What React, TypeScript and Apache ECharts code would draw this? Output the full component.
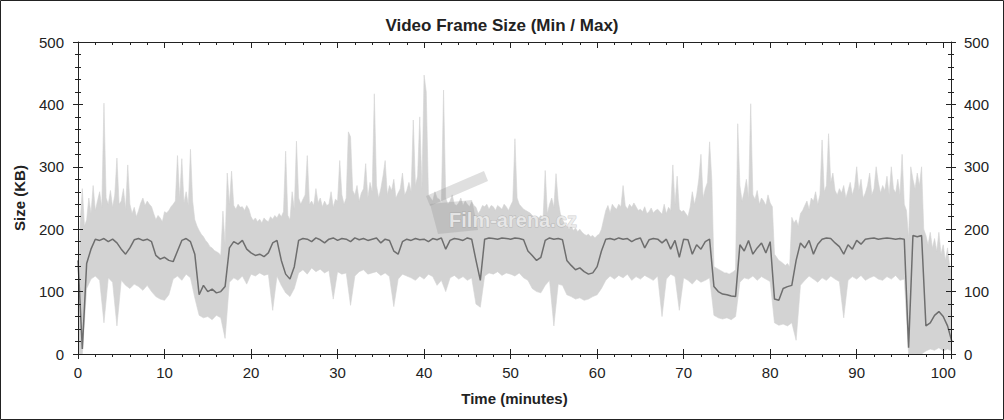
import React, { useEffect, useRef } from "react";
import * as echarts from "echarts";

// sampling grids (minutes between samples)
const MAX_STEP = 0.25;
const STEP = 0.5;

const xTickValues = [0, 10, 20, 30, 40, 50, 60, 70, 80, 90, 100];
const yTickValues = [0, 100, 200, 300, 400, 500];

// upper edge of the light band (KB), one row per minute, 4 samples per row
const maxValues = [
  60, 210, 265, 205,
  215, 250, 225, 270,
  230, 245, 260, 235,
  402, 250, 240, 262,
  235, 255, 314, 240,
  245, 265, 232, 303,
  240, 225, 235, 220,
  230, 242, 250, 238,
  245, 240, 236, 225,
  215, 222, 218, 212,
  228, 226, 230, 236,
  240, 245, 318, 250,
  313, 242, 260, 238,
  328, 245, 215, 205,
  198, 192, 188, 182,
  178, 172, 170, 166,
  164, 162, 158, 229,
  175, 290, 240, 293,
  238, 232, 240, 235,
  236, 230, 238, 232,
  220, 214, 218, 212,
  216, 210, 218, 214,
  212, 220, 216, 222,
  218, 225, 220, 228,
  325, 222, 215, 260,
  232, 341, 250, 240,
  248, 255, 318, 240,
  245, 238, 265, 242,
  250, 236, 245, 238,
  240, 260, 235, 248,
  245, 310, 255, 240,
  250, 356, 348, 262,
  255, 270, 245, 258,
  265, 305, 250, 275,
  260, 417, 270, 250,
  265, 285, 310, 255,
  270, 262, 280, 250,
  258, 265, 290, 255,
  262, 275, 260, 375,
  270, 285, 380, 265,
  447, 420, 255, 250,
  245, 260, 250, 248,
  242, 423, 250, 240,
  245, 255, 240, 238,
  242, 250, 238, 245,
  240, 236, 244, 238,
  235, 225, 230, 238,
  236, 240, 232, 238,
  236, 230, 238, 235,
  232, 240, 236, 230,
  238, 245, 345, 250,
  240, 236, 232, 230,
  228, 226, 222, 219,
  220, 218, 222, 216,
  294, 225, 240, 250,
  235, 289, 245, 225,
  215, 208, 205, 200,
  205, 198, 202, 196,
  200, 195, 192, 190,
  192, 188, 190, 186,
  190, 192, 200, 215,
  230, 238, 226, 240,
  235, 232, 240, 236,
  270, 238, 232, 240,
  235, 242, 236, 230,
  232, 228, 236, 225,
  228, 234, 226, 230,
  232, 228, 224, 240,
  225, 235, 230, 303,
  240, 285, 232, 228,
  230, 225, 220, 235,
  260, 240, 255, 280,
  320, 250, 265, 275,
  340, 280, 140, 138,
  136, 134, 132, 130,
  130, 128, 130, 132,
  135, 369, 270, 245,
  260, 280, 250, 401,
  255, 248, 262, 240,
  250, 245, 238, 255,
  242, 236, 160, 155,
  150, 148, 145, 142,
  145, 140, 219, 210,
  215, 205, 225, 230,
  238, 245, 232, 250,
  245, 260, 240, 255,
  343, 260, 270, 353,
  275, 290, 262, 255,
  265, 258, 270, 250,
  262, 275, 255, 268,
  300, 262, 280, 250,
  258, 270, 290, 255,
  265, 300, 275, 258,
  270, 262, 285, 255,
  300, 265, 258, 280,
  255, 320, 240, 230,
  185, 300, 280, 265,
  290, 270, 300, 200,
  190, 175, 195, 170,
  185, 165, 195, 160,
  175, 150, 170, 140,
  130,
];

// lower edge of the light band (KB), one sample every half minute
const minValues = [
  0, 0, 105, 120, 125, 118, 50, 122, 115, 45,
  118, 110, 105, 112, 108, 102, 110, 100, 92, 88,
  86, 95, 120, 125, 118, 128, 122, 90, 62, 58,
  60, 55, 62, 58, 25, 115, 122, 118, 125, 112,
  128, 125, 130, 126, 128, 70, 125, 110, 98, 92,
  105, 130, 135, 128, 138, 132, 136, 130, 134, 88,
  132, 128, 130, 78, 125, 132, 135, 128, 130, 132,
  126, 130, 124, 76, 120, 128, 125, 122, 118, 125,
  120, 128, 124, 110, 118, 100, 122, 126, 120, 124,
  118, 122, 80, 75, 125, 130, 128, 132, 126, 130,
  128, 125, 130, 122, 118, 105, 100, 98, 110, 118,
  45, 112, 110, 95, 92, 88, 90, 86, 88, 92,
  95, 105, 118, 125, 120, 126, 122, 128, 118, 124,
  120, 126, 122, 118, 125, 60, 120, 128, 124, 70,
  122, 118, 112, 120, 115, 118, 122, 62, 58, 56,
  58, 55, 60, 115, 122, 120, 125, 118, 124, 120,
  116, 50, 46, 48, 45, 50, 22, 110, 118, 125,
  120, 115, 122, 118, 125, 120, 116, 58, 118, 124,
  120, 126, 118, 122, 125, 120, 118, 124, 120, 126,
  118, 120, 0, 0, 0, 0, 5, 8, 6, 10,
  5, 8, 5,
];

// dark line (KB), one sample every half minute
const lineValues = [
  150, 8, 145, 168, 184, 182, 185, 180, 184, 178,
  168, 160, 170, 183, 185, 182, 184, 180, 158, 152,
  155, 150, 148, 165, 182, 185, 180, 160, 95, 110,
  100, 104, 98, 100, 108, 170, 180, 176, 182, 168,
  162, 158, 160, 156, 162, 178, 182, 150, 128, 120,
  140, 182, 185, 184, 180, 186, 183, 178, 184, 186,
  182, 185, 184, 180, 186, 183, 185, 182, 184, 186,
  178, 184, 182, 165, 160, 180, 184, 182, 185, 183,
  184, 180, 185, 183, 186, 168, 182, 185, 184, 182,
  186, 184, 150, 118, 184, 186, 185, 184, 186, 185,
  184, 186, 185, 183, 165, 158, 150, 155, 182, 186,
  184, 185, 183, 150, 142, 135, 138, 132, 128, 130,
  140, 165, 184, 185, 183, 186, 184, 185, 180, 184,
  186, 170, 183, 185, 184, 178, 184, 168, 182, 155,
  184, 183, 160, 175, 168, 180, 184, 108, 100, 96,
  95, 93, 92, 175, 165, 182, 160, 170, 178, 162,
  180, 88, 86, 105, 108, 110, 150, 178, 170, 182,
  160, 176, 184, 186, 185, 178, 172, 160, 175, 168,
  182, 176, 184, 185, 186, 184, 185, 186, 185, 184,
  185, 184, 10, 190, 188, 190, 45, 50, 62, 68,
  60, 45, 20,
];

const X_MAX = 100.9;
const FONT = "'Liberation Sans', Arial, sans-serif";
const INK = "#222";

export default function App() {
  const ref = useRef<HTMLDivElement>(null);

  useEffect(() => {
    document.body.style.margin = "0";
    const chart = echarts.init(ref.current!, undefined, { renderer: "svg" });

    const maxData = maxValues.map((v, i) => [i * MAX_STEP, v]);
    const minData = minValues.map((v, i) => [i * STEP, v]);
    const lineData = lineValues.map((v, i) => [i * STEP, v]);

    const xLabelFmt = (v: number) => (xTickValues.includes(v) ? String(v) : "");
    const yLabelFmt = (v: number) => (yTickValues.includes(v) ? String(v) : "");

    const baseX = {
      type: "value",
      min: 0,
      max: X_MAX,
      interval: 10,
      splitLine: { show: false },
      z: 10,
    };
    const baseY = {
      type: "value",
      min: 0,
      max: 500,
      interval: 100,
      splitLine: { show: false },
      z: 10,
    };
    const line = { show: true, onZero: false, lineStyle: { color: INK, width: 1 } };

    chart.setOption({
      animation: false,
      backgroundColor: "#fff",
      title: {
        text: "Video Frame Size (Min / Max)",
        left: "center",
        top: 12,
        textStyle: { fontFamily: FONT, fontSize: 17, fontWeight: "bold", color: INK },
      },
      grid: { left: 78, right: 53, top: 42, bottom: 66 },
      xAxis: [
        {
          ...baseX,
          position: "bottom",
          axisLine: line,
          axisTick: { show: true, inside: false, length: 5, lineStyle: { color: INK } },
          minorTick: { show: true, splitNumber: 5, length: 3, lineStyle: { color: INK } },
          axisLabel: {
            show: true,
            margin: 11,
            fontFamily: FONT,
            fontSize: 15,
            color: INK,
            formatter: xLabelFmt,
            showMaxLabel: false,
          },
          name: "Time (minutes)",
          nameLocation: "middle",
          nameGap: 37,
          nameTextStyle: { fontFamily: FONT, fontSize: 15, fontWeight: "bold", color: INK },
        },
        {
          ...baseX,
          position: "bottom",
          axisLine: { show: false, onZero: false },
          axisTick: { show: true, inside: true, length: 5, lineStyle: { color: INK } },
          axisLabel: { show: false },
        },
        {
          ...baseX,
          position: "top",
          axisLine: line,
          axisTick: { show: true, inside: true, length: 6, lineStyle: { color: INK } },
          minorTick: { show: true, splitNumber: 5, length: 3, lineStyle: { color: INK } },
          axisLabel: { show: false },
        },
      ],
      yAxis: [
        {
          ...baseY,
          position: "left",
          axisLine: line,
          axisTick: { show: true, inside: false, length: 5, lineStyle: { color: INK } },
          minorTick: { show: true, splitNumber: 5, length: 3, lineStyle: { color: INK } },
          axisLabel: {
            show: true,
            margin: 14,
            fontFamily: FONT,
            fontSize: 15,
            color: INK,
            formatter: yLabelFmt,
          },
          name: "Size (KB)",
          nameLocation: "middle",
          nameGap: 51,
          nameRotate: 90,
          nameTextStyle: { fontFamily: FONT, fontSize: 15, fontWeight: "bold", color: INK },
        },
        {
          ...baseY,
          position: "left",
          axisLine: { show: false, onZero: false },
          axisTick: { show: true, inside: true, length: 5, lineStyle: { color: INK } },
          minorTick: { show: true, splitNumber: 5, length: 3, lineStyle: { color: INK } },
          axisLabel: { show: false },
        },
        {
          ...baseY,
          position: "right",
          axisLine: line,
          axisTick: { show: true, inside: false, length: 5, lineStyle: { color: INK } },
          minorTick: { show: true, splitNumber: 5, length: 3, lineStyle: { color: INK } },
          axisLabel: {
            show: true,
            margin: 13,
            fontFamily: FONT,
            fontSize: 15,
            color: INK,
            formatter: yLabelFmt,
          },
        },
        {
          ...baseY,
          position: "right",
          axisLine: { show: false, onZero: false },
          axisTick: { show: true, inside: true, length: 5, lineStyle: { color: INK } },
          minorTick: { show: true, splitNumber: 5, length: 3, lineStyle: { color: INK } },
          axisLabel: { show: false },
        },
      ],
      series: [
        {
          name: "Max",
          type: "line",
          xAxisIndex: 0,
          yAxisIndex: 0,
          data: maxData,
          symbol: "none",
          lineStyle: { width: 0.6, color: "#d3d3d3" },
          areaStyle: { color: "#d3d3d3", opacity: 1 },
          z: 2,
        },
        {
          name: "Min",
          type: "line",
          xAxisIndex: 0,
          yAxisIndex: 0,
          data: minData,
          symbol: "none",
          lineStyle: { width: 0.6, color: "#d3d3d3" },
          areaStyle: { color: "#ffffff", opacity: 1 },
          z: 3,
        },
        {
          name: "Frame",
          type: "line",
          xAxisIndex: 0,
          yAxisIndex: 0,
          data: lineData,
          symbol: "none",
          lineStyle: { width: 1.5, color: "#6e6e6e" },
          z: 4,
        },
      ],
      graphic: [
        {
          type: "polygon",
          z: 20,
          shape: { points: [[430, 204], [472, 200], [478, 230], [438, 234]] },
          style: { fill: "rgba(140,140,140,0.28)" },
        },
        {
          type: "polygon",
          z: 20,
          shape: { points: [[426, 196], [484, 171], [488, 181], [430, 206]] },
          style: { fill: "rgba(140,140,140,0.28)" },
        },
        {
          type: "text",
          z: 21,
          x: 513,
          y: 220,
          style: {
            text: "Film-arena.cz",
            font: `bold 20px ${FONT}`,
            fill: "rgba(236,236,236,0.85)",
            stroke: "rgba(150,150,150,0.45)",
            lineWidth: 1,
            align: "center",
            verticalAlign: "middle",
          },
        },
        {
          type: "rect",
          z: 30,
          shape: { x: 0.5, y: 0.5, width: 1003, height: 419 },
          style: { fill: "none", stroke: "#222", lineWidth: 1 },
        },
      ],
    });

    return () => chart.dispose();
  }, []);

  return <div ref={ref} style={{ width: 1004, height: 420 }} />;
}
